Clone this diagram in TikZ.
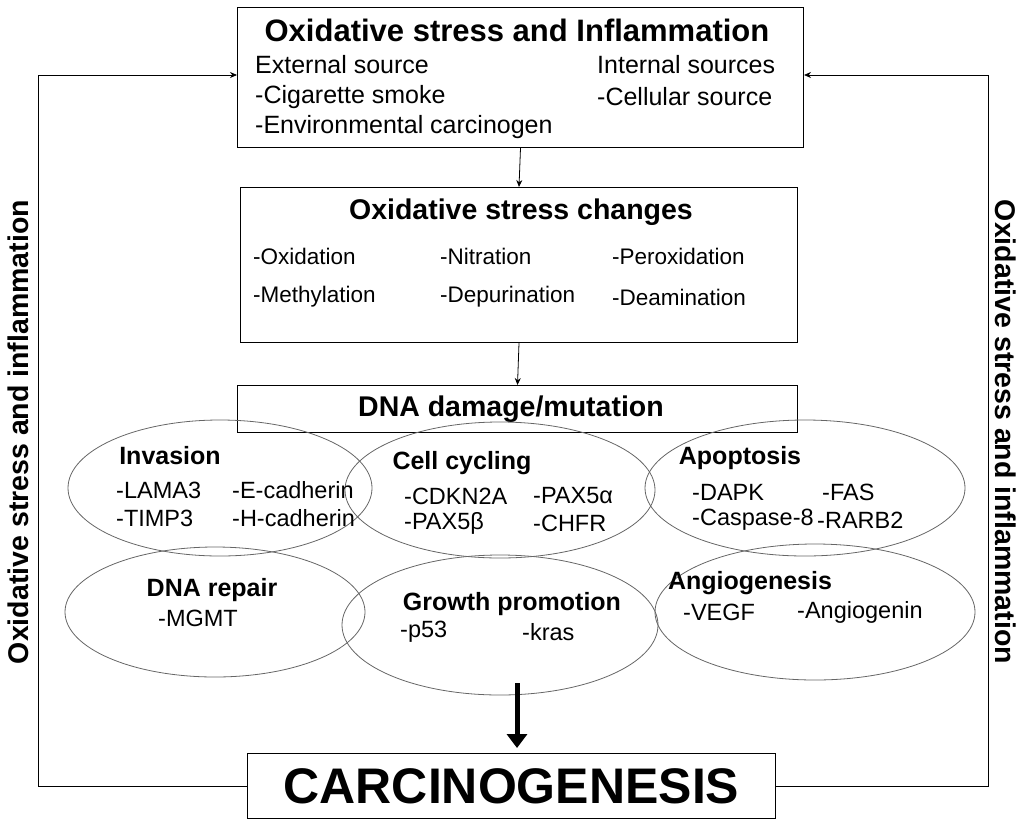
\documentclass[tikz,border=0pt]{standalone}
\usepackage{fontspec}
\setmainfont{Liberation Sans}
\usetikzlibrary{arrows.meta}
\begin{document}
\begin{tikzpicture}[x=1pt,y=-1pt,
 box/.style={draw,line width=1pt},
 ell/.style={draw=black!60,line width=0.8pt},
 t/.style={anchor=west,inner sep=0,font=\fontsize{22.5}{22.5}\selectfont},
 et/.style={anchor=west,inner sep=0,font=\fontsize{23.5}{23.5}\selectfont},
 tt/.style={anchor=west,inner sep=0,font=\fontsize{25}{25}\selectfont},
 h/.style={inner sep=0,font=\fontsize{28.5}{28.5}\selectfont\bfseries},
 eh/.style={inner sep=0,font=\fontsize{25}{25}\selectfont\bfseries},
 arr/.style={-{Stealth[length=7pt,width=6pt]},line width=0.8pt}]
\useasboundingbox (0,0) rectangle (1024,827);
\node[box,minimum width=566,minimum height=140,anchor=north west] (top) at (237,7) {};
\node[box,minimum width=557,minimum height=155,anchor=north west] (chg) at (240,187) {};
\node[box,minimum width=560,minimum height=47,anchor=north west] (dna) at (237,385) {};
\node[box,minimum width=528,minimum height=65,anchor=north west] (car) at (247,753) {};
\node[font=\fontsize{50}{50}\selectfont\bfseries] at (car.center) {CARCINOGENESIS};
\node[h,font=\fontsize{31}{31}\selectfont\bfseries] at (517,30) {Oxidative stress and Inflammation};
\node[tt] at (255,65) {External source};
\node[tt] at (255,97) {-Cigarette smoke};
\node[tt] at (255,127) {-Environmental carcinogen};
\node[tt] at (597,65) {Internal sources};
\node[tt] at (597,97) {-Cellular source};
\node[h] at (521,212) {Oxidative stress changes};
\node[t] at (253,256) {-Oxidation};
\node[t] at (440,256) {-Nitration};
\node[t] at (612,256) {-Peroxidation};
\node[t] at (253,297) {-Methylation};
\node[t] at (440,297) {-Depurination};
\node[t] at (612,297) {-Deamination};
\node[h] at (511,409) {DNA damage/mutation};
\draw[ell] (220,488) ellipse (152 and 68);
\draw[ell] (500,490) ellipse (155 and 68);
\draw[ell] (805,488) ellipse (160 and 68);
\draw[ell] (215,612) ellipse (150 and 65);
\draw[ell] (500,625) ellipse (158 and 70);
\draw[ell] (815,612) ellipse (160 and 68);
\node[eh] at (170,456) {Invasion};
\node[et] at (116,490) {-LAMA3}; \node[et] at (232,490) {-E-cadherin};
\node[et] at (116,518) {-TIMP3}; \node[et] at (232,518) {-H-cadherin};
\node[eh] at (462,463) {Cell cycling};
\node[et] at (404,496) {-CDKN2A}; \node[et] at (533,496) {-PAX5α};
\node[et] at (404,523) {-PAX5β}; \node[et] at (533,523) {-CHFR};
\node[eh] at (740,458) {Apoptosis};
\node[et] at (692,492) {-DAPK}; \node[et] at (822,492) {-FAS};
\node[et] at (692,520) {-Caspase-8}; \node[et] at (817,520) {-RARB2};
\node[eh] at (212,590) {DNA repair};
\node[et] at (158,618) {-MGMT};
\node[eh] at (512,604) {Growth promotion};
\node[et] at (400,632) {-p53}; \node[et] at (522,632) {-kras};
\node[eh] at (750,583) {Angiogenesis};
\node[et] at (683,612) {-VEGF}; \node[et] at (797,612) {-Angiogenin};
\draw[arr] (top.south) -- (chg.north);
\draw[arr] (chg.south) -- (dna.north);
\coordinate (gp) at (517,683);
\coordinate (ct) at (517,748);
\draw[-{Triangle[length=14pt,width=20pt]},line width=5pt] (gp) -- (ct);
\draw[arr] (car.west) -| (38,75) -- (top.west |- 0,75);
\draw[arr] (car.east) -| (988,75) -- (top.east |- 0,75);
\node[h] at (18,432) [rotate=90] {Oxidative stress and inflammation};
\node[h] at (1006,432) [rotate=-90] {Oxidative stress and inflammation};
\end{tikzpicture}
\end{document}
